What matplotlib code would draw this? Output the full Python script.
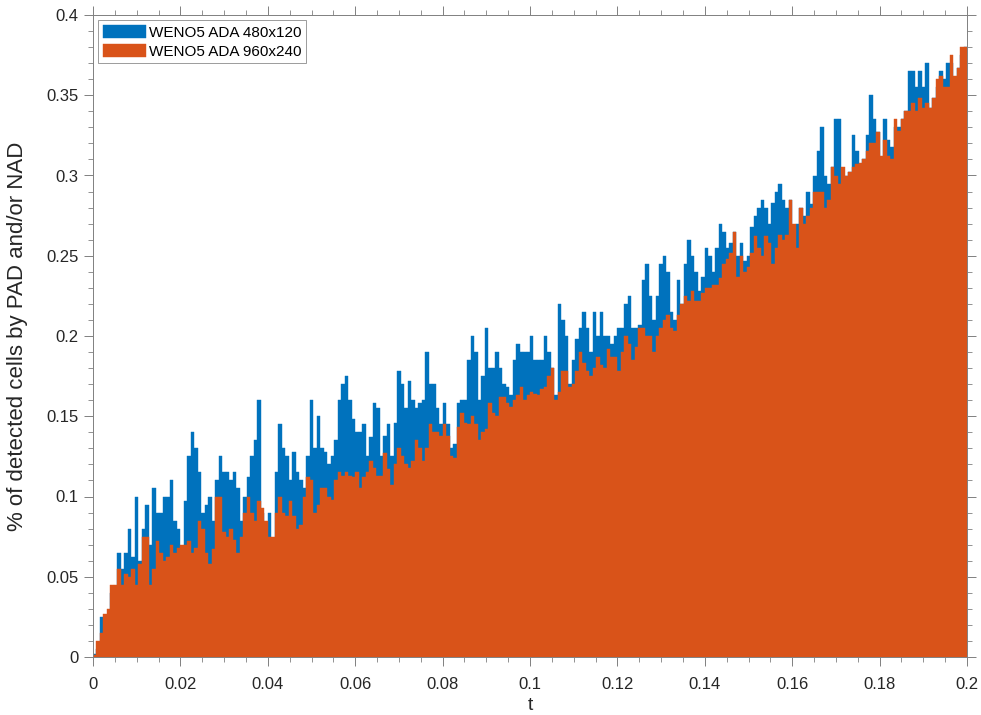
import numpy as np
import matplotlib
matplotlib.use("Agg")
import matplotlib.pyplot as plt
from matplotlib.ticker import MultipleLocator, FuncFormatter

# bin width in t, 250 bins over [0, 0.2]
dt = 0.0008
labels = ["WENO5 ADA 480x120", "WENO5 ADA 960x240"]

# WENO5 ADA 480x120 (50 per 0.04 of t)
ada_480 = [
    0.002, 0.005, 0.025, 0.012, 0.02, 0.04, 0.04, 0.065, 0.055, 0.065,
    0.08, 0.062, 0.1, 0.06, 0.08, 0.095, 0.07, 0.105, 0.09, 0.09,
    0.1, 0.1, 0.11, 0.085, 0.08, 0.06, 0.097, 0.125, 0.14, 0.13,
    0.115, 0.09, 0.095, 0.1, 0.085, 0.11, 0.125, 0.115, 0.115, 0.11,
    0.115, 0.105, 0.085, 0.1, 0.112, 0.125, 0.135, 0.16, 0.09, 0.08,

    0.09, 0.074, 0.115, 0.145, 0.13, 0.125, 0.11, 0.128, 0.115, 0.11,
    0.105, 0.125, 0.16, 0.13, 0.15, 0.13, 0.128, 0.12, 0.125, 0.135,
    0.16, 0.17, 0.175, 0.16, 0.148, 0.14, 0.14, 0.145, 0.125, 0.137,
    0.158, 0.155, 0.125, 0.138, 0.145, 0.125, 0.146, 0.178, 0.17, 0.155,
    0.172, 0.16, 0.155, 0.158, 0.16, 0.19, 0.17, 0.17, 0.155, 0.145,

    0.158, 0.145, 0.13, 0.133, 0.158, 0.16, 0.16, 0.185, 0.2, 0.19,
    0.16, 0.175, 0.205, 0.18, 0.18, 0.19, 0.18, 0.17, 0.168, 0.163,
    0.185, 0.195, 0.19, 0.19, 0.19, 0.2, 0.185, 0.185, 0.185, 0.2,
    0.19, 0.18, 0.163, 0.22, 0.21, 0.2, 0.17, 0.185, 0.198, 0.205,
    0.215, 0.205, 0.19, 0.215, 0.2, 0.215, 0.2, 0.2, 0.195, 0.2,

    0.205, 0.205, 0.22, 0.225, 0.205, 0.205, 0.207, 0.235, 0.245, 0.225,
    0.21, 0.225, 0.245, 0.25, 0.24, 0.215, 0.21, 0.235, 0.22, 0.245,
    0.26, 0.25, 0.24, 0.228, 0.237, 0.255, 0.25, 0.24, 0.255, 0.27,
    0.265, 0.255, 0.258, 0.265, 0.25, 0.258, 0.247, 0.25, 0.268, 0.275,
    0.28, 0.285, 0.28, 0.27, 0.283, 0.29, 0.295, 0.285, 0.28, 0.285,

    0.265, 0.27, 0.28, 0.275, 0.29, 0.282, 0.3, 0.315, 0.33, 0.3,
    0.295, 0.305, 0.335, 0.335, 0.3, 0.3, 0.302, 0.325, 0.315, 0.305,
    0.31, 0.325, 0.35, 0.335, 0.327, 0.31, 0.335, 0.322, 0.318, 0.33,
    0.33, 0.335, 0.34, 0.365, 0.365, 0.355, 0.365, 0.355, 0.37, 0.342,
    0.348, 0.355, 0.365, 0.36, 0.37, 0.37, 0.36, 0.367, 0.375, 0.38,
]

# WENO5 ADA 960x240
ada_960 = [
    0.001, 0.01, 0.015, 0.027, 0.03, 0.045, 0.045, 0.055, 0.045, 0.052,
    0.05, 0.055, 0.045, 0.058, 0.075, 0.075, 0.045, 0.055, 0.072, 0.065,
    0.06, 0.062, 0.07, 0.065, 0.068, 0.07, 0.07, 0.072, 0.065, 0.068,
    0.085, 0.08, 0.065, 0.058, 0.067, 0.1, 0.1, 0.078, 0.075, 0.08,
    0.073, 0.065, 0.075, 0.09, 0.1, 0.09, 0.085, 0.097, 0.093, 0.085,

    0.075, 0.075, 0.09, 0.1, 0.09, 0.088, 0.097, 0.088, 0.08, 0.082,
    0.1, 0.112, 0.11, 0.09, 0.095, 0.105, 0.105, 0.1, 0.098, 0.11,
    0.115, 0.113, 0.115, 0.113, 0.112, 0.115, 0.105, 0.112, 0.115, 0.122,
    0.118, 0.113, 0.113, 0.127, 0.117, 0.107, 0.12, 0.13, 0.125, 0.12,
    0.118, 0.122, 0.135, 0.13, 0.122, 0.13, 0.145, 0.14, 0.14, 0.138,

    0.145, 0.138, 0.125, 0.124, 0.143, 0.152, 0.146, 0.145, 0.15, 0.145,
    0.135, 0.14, 0.142, 0.158, 0.152, 0.15, 0.162, 0.162, 0.158, 0.156,
    0.16, 0.163, 0.168, 0.16, 0.163, 0.165, 0.164, 0.163, 0.167, 0.168,
    0.175, 0.18, 0.16, 0.165, 0.178, 0.178, 0.168, 0.17, 0.178, 0.19,
    0.183, 0.178, 0.175, 0.18, 0.187, 0.182, 0.18, 0.192, 0.187, 0.187,

    0.178, 0.19, 0.2, 0.195, 0.185, 0.193, 0.205, 0.205, 0.2, 0.2,
    0.19, 0.2, 0.205, 0.21, 0.213, 0.205, 0.203, 0.213, 0.22, 0.225,
    0.222, 0.228, 0.222, 0.222, 0.227, 0.23, 0.23, 0.232, 0.232, 0.236,
    0.245, 0.248, 0.252, 0.265, 0.237, 0.25, 0.24, 0.243, 0.252, 0.262,
    0.255, 0.25, 0.262, 0.258, 0.245, 0.255, 0.263, 0.26, 0.263, 0.285,

    0.27, 0.255, 0.28, 0.27, 0.275, 0.28, 0.29, 0.29, 0.29, 0.28,
    0.285, 0.305, 0.3, 0.295, 0.305, 0.3, 0.302, 0.305, 0.307, 0.308,
    0.31, 0.315, 0.32, 0.32, 0.327, 0.312, 0.322, 0.312, 0.31, 0.335,
    0.328, 0.335, 0.34, 0.34, 0.345, 0.34, 0.348, 0.342, 0.345, 0.342,
    0.348, 0.36, 0.362, 0.355, 0.355, 0.375, 0.362, 0.367, 0.38, 0.38,
]

t = np.arange(len(ada_480)) * dt + dt / 2

blue = "#0072BD"
orange = "#D95319"
axcol = "#262626"

plt.rcParams["font.family"] = ["Liberation Sans", "DejaVu Sans"]

fig = plt.figure(figsize=(9.81, 7.15), dpi=100)
ax = fig.add_axes([93 / 981, 58 / 715, 874 / 981, 642 / 715])

ax.bar(t, ada_480, width=dt, color=blue, edgecolor=blue, linewidth=0.3,
       label=labels[0])
ax.bar(t, ada_960, width=dt, color=orange, edgecolor=orange, linewidth=0.3,
       label=labels[1])

ax.set_xlim(0, 0.2)
ax.set_ylim(0, 0.4)

ax.xaxis.set_major_locator(MultipleLocator(0.02))
ax.xaxis.set_minor_locator(MultipleLocator(0.005))
ax.yaxis.set_major_locator(MultipleLocator(0.05))
ax.yaxis.set_minor_locator(MultipleLocator(0.01))
fmt = FuncFormatter(lambda v, p: "%g" % round(v, 6))
ax.xaxis.set_major_formatter(fmt)
ax.yaxis.set_major_formatter(fmt)

ax.tick_params(which="both", direction="out", top=True, right=True,
               color="#808080", labelcolor=axcol, labelsize=12)
ax.tick_params(which="major", length=6.5, width=0.7)
ax.tick_params(which="minor", length=3.5, width=0.6)
ax.tick_params(axis="x", pad=8)
ax.tick_params(axis="y", pad=4)
for s in ax.spines.values():
    s.set_color("#808080")
    s.set_linewidth(0.7)

ax.set_xlabel("t", fontsize=14, color=axcol, va="center")
ax.xaxis.set_label_coords(0.5, (657 - 705) / 642)
ax.set_ylabel("% of detected cells by PAD and/or NAD", fontsize=16,
              color=axcol, va="center")
ax.yaxis.set_label_coords((18 - 93) / 874, 0.5)

leg = ax.legend(loc="upper left", fontsize=11, fancybox=False,
                framealpha=1, edgecolor="#8c8c8c", handlelength=2.8,
                handleheight=0.9, borderpad=0.3, labelspacing=0.3,
                handletextpad=0.2, borderaxespad=0.35)
leg.get_frame().set_linewidth(0.6)

fig.savefig("out.png", dpi=100)
